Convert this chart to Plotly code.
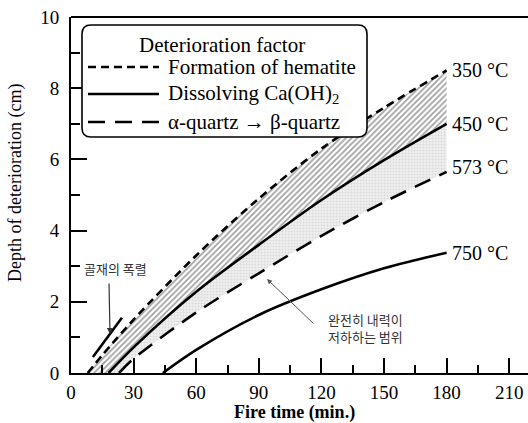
import plotly.graph_objects as go

# ---------------- data ----------------
hem_x = [8, 15, 30, 60, 90, 120, 150, 180]
hem_y = [0.0, 0.5, 1.5, 3.3, 4.9, 6.3, 7.45, 8.5]

ca_x = [18, 30, 60, 90, 120, 150, 180]
ca_y = [0.0, 0.72, 2.28, 3.6, 4.86, 5.98, 7.0]

qz_x = [23, 30, 60, 90, 120, 150, 180]
qz_y = [0.0, 0.4, 1.7, 2.8, 3.85, 4.8, 5.65]

t750_x = [44, 60, 90, 120, 150, 180]
t750_y = [0.0, 0.65, 1.63, 2.35, 2.94, 3.38]

spall_x = [10.5, 24.4]
spall_y = [0.45, 1.55]

end_labels = ["350 °C", "450 °C", "573 °C", "750 °C"]
legend_title = "Deterioration factor"
legend_labels = ["Formation of hematite", "Dissolving Ca(OH)<sub>2</sub>", "α-quartz → β-quartz"]
x_ticks = [0, 30, 60, 90, 120, 150, 180, 210]
y_ticks = [0, 2, 4, 6, 8, 10]

SERIF = "Liberation Serif, Times New Roman, serif"
KR = "Noto Sans CJK KR"

W, H = 528, 423
L, R, T, B = 71, 0, 17, 50
PW, PH = W - L - R, H - T - B


def px(x):
    return (x - L) / PW


def py(y):
    return (H - B - y) / PH


fig = go.Figure()
SPL = dict(shape="spline", smoothing=0.9)

# hatched region (hematite -> Ca(OH)2)
fig.add_trace(go.Scatter(x=ca_x, y=ca_y, mode="lines", line=dict(width=0, **SPL),
                         hoverinfo="skip", showlegend=False))
fig.add_trace(go.Scatter(
    x=hem_x, y=hem_y, mode="lines", line=dict(width=0, **SPL), fill="tonexty",
    fillcolor="white",
    fillpattern=dict(shape="/", fgcolor="#444444", bgcolor="white", size=4, solidity=0.45),
    hoverinfo="skip", showlegend=False))
# dotted region (Ca(OH)2 -> quartz)
fig.add_trace(go.Scatter(x=qz_x, y=qz_y, mode="lines", line=dict(width=0, **SPL),
                         hoverinfo="skip", showlegend=False))
fig.add_trace(go.Scatter(
    x=ca_x, y=ca_y, mode="lines", line=dict(width=0, **SPL), fill="tonexty",
    fillcolor="#ececec",
    fillpattern=dict(shape=".", fgcolor="#c4c4c4", bgcolor="#f0f0f0", size=3, solidity=0.4),
    hoverinfo="skip", showlegend=False))

line_w = 2.6
fig.add_trace(go.Scatter(x=hem_x, y=hem_y, mode="lines",
                         line=dict(color="black", width=line_w, dash="8px,5px", **SPL), showlegend=False))
fig.add_trace(go.Scatter(x=ca_x, y=ca_y, mode="lines",
                         line=dict(color="black", width=line_w, **SPL), showlegend=False))
fig.add_trace(go.Scatter(x=qz_x, y=qz_y, mode="lines",
                         line=dict(color="black", width=line_w, dash="17px,10px", **SPL), showlegend=False))
fig.add_trace(go.Scatter(x=t750_x, y=t750_y, mode="lines",
                         line=dict(color="black", width=line_w, **SPL), showlegend=False))
fig.add_trace(go.Scatter(x=spall_x, y=spall_y, mode="lines",
                         line=dict(color="black", width=line_w), showlegend=False))

# end labels
ends = [(hem_x[-1], hem_y[-1]), (ca_x[-1], ca_y[-1]), (qz_x[-1], qz_y[-1] + 0.15), (t750_x[-1], t750_y[-1])]
for (ex, ey), lab in zip(ends, end_labels):
    fig.add_annotation(x=ex, y=ey, text=lab, showarrow=False, xanchor="left", yanchor="middle",
                       xshift=3, font=dict(family=SERIF, size=20, color="black"))

# legend box (rounded rectangle)
x0, x1, y0, y1, r = 82, 367, 25, 137, 9
rx, ry = r / PW, r / PH
X0, X1, Y0, Y1 = px(x0), px(x1), py(y1), py(y0)
path = (f"M{X0 + rx},{Y0} L{X1 - rx},{Y0} Q{X1},{Y0} {X1},{Y0 + ry} "
        f"L{X1},{Y1 - ry} Q{X1},{Y1} {X1 - rx},{Y1} L{X0 + rx},{Y1} "
        f"Q{X0},{Y1} {X0},{Y1 - ry} L{X0},{Y0 + ry} Q{X0},{Y0} {X0 + rx},{Y0} Z")
fig.add_shape(type="path", path=path, xref="paper", yref="paper",
              line=dict(color="black", width=1.6), fillcolor="white", layer="above")

fig.add_annotation(x=px(222), y=py(45), xref="paper", yref="paper", text=legend_title,
                   showarrow=False, xanchor="center", yanchor="middle",
                   font=dict(family=SERIF, size=21, color="black"))
rows_y = [67, 94, 122]
dashes = ["8px,5px", "solid", "17px,10px"]
for yy, d, lab in zip(rows_y, dashes, legend_labels):
    fig.add_shape(type="line", xref="paper", yref="paper", x0=px(88), x1=px(159), y0=py(yy), y1=py(yy),
                  line=dict(color="black", width=2.4, dash=d), layer="above")
    fig.add_annotation(x=px(166), y=py(yy), xref="paper", yref="paper", text=lab,
                       showarrow=False, xanchor="left", yanchor="middle",
                       font=dict(family=SERIF, size=21, color="black"))

# Korean annotations
fig.add_annotation(x=px(82), y=py(268), xref="paper", yref="paper", text="골재의 폭렬",
                   showarrow=False, xanchor="left", yanchor="middle",
                   font=dict(family=KR, size=13, color="#333"))
fig.add_annotation(x=px(110), y=py(334), xref="paper", yref="paper", text="",
                   showarrow=True, arrowhead=2, arrowsize=1, arrowwidth=1.2, arrowcolor="#333",
                   ax=-1, ay=-52)
fig.add_annotation(x=px(326), y=py(328), xref="paper", yref="paper",
                   text="완전히 내력이<br>저하하는 범위",
                   showarrow=False, xanchor="left", yanchor="middle", align="left",
                   font=dict(family=KR, size=13, color="#333"))
fig.add_annotation(x=px(267), y=py(279), xref="paper", yref="paper", text="",
                   showarrow=True, arrowhead=2, arrowsize=1, arrowwidth=1, arrowcolor="#555",
                   ax=48, ay=46)

# top border
fig.add_shape(type="line", xref="paper", yref="paper", x0=0, x1=1, y0=1, y1=1,
              line=dict(color="black", width=2))

# axis titles
fig.add_annotation(x=px(15), y=py(183), xref="paper", yref="paper",
                   text="Depth of deterioration (cm)", textangle=-90, showarrow=False,
                   xanchor="center", yanchor="middle", font=dict(family=SERIF, size=18, color="black"))
fig.add_annotation(x=px(294), y=py(412), xref="paper", yref="paper",
                   text="<b>Fire time (min.)</b>", showarrow=False,
                   xanchor="center", yanchor="middle", font=dict(family=SERIF, size=18, color="black"))

fig.update_xaxes(range=[0, 219], tickvals=x_ticks, ticks="inside", ticklen=15, tickwidth=2,
                 tickcolor="black", showline=True, linewidth=2, linecolor="black",
                 showgrid=False, zeroline=False, ticklabelstandoff=1,
                 minor=dict(dtick=15, ticks="inside", ticklen=8, tickwidth=2, tickcolor="black"),
                 tickfont=dict(family=SERIF, size=19, color="black"))
fig.update_yaxes(range=[0, 10], tickvals=y_ticks, ticks="inside", ticklen=16, tickwidth=2,
                 tickcolor="black", showline=True, linewidth=2, linecolor="black",
                 showgrid=False, zeroline=False, ticklabelstandoff=6,
                 minor=dict(dtick=1, ticks="inside", ticklen=9, tickwidth=2, tickcolor="black"),
                 tickfont=dict(family=SERIF, size=19, color="black"))

fig.update_layout(width=W, height=H, margin=dict(l=L, r=R, t=T, b=B),
                  plot_bgcolor="white", paper_bgcolor="white", showlegend=False,
                  hovermode=False)

fig.write_html("out.html", config={"displayModeBar": False},
               post_script="document.body.style.margin='0';document.body.style.overflow='hidden';")
